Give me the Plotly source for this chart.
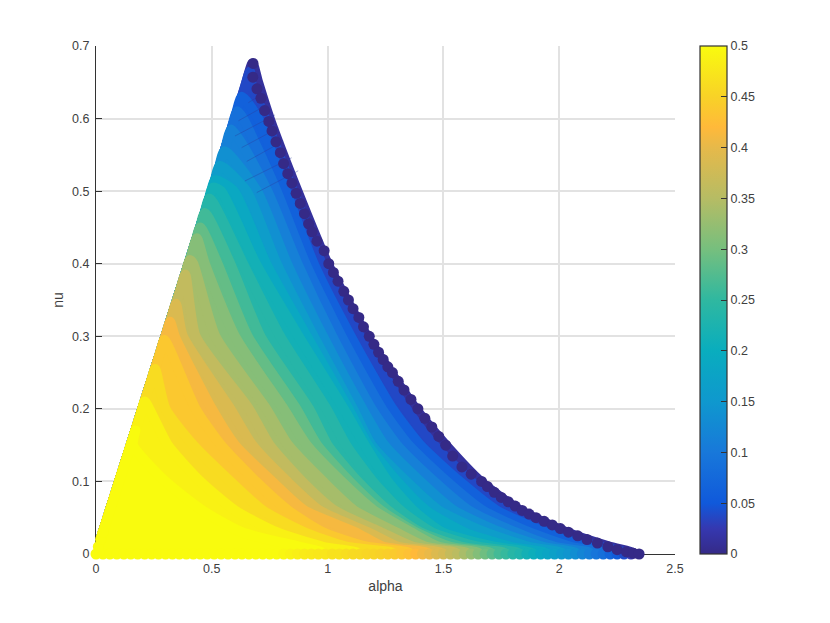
import plotly.graph_objects as go

# colour bar
CB_V = [0, .025, .05, .1, .15, .2, .25, .3, .35, .4, .42, .45, .5]
CB_HEX = ["#352A87", "#3538B0", "#1059DB", "#1878DA", "#0F98CE", "#09ADBE", "#2FB8A0",
          "#76BF7E", "#B6BC64", "#E6B94A", "#FFB93A", "#F8D227", "#F9FB0E"]

# rows of nu at which level curves were read
NU_ROWS = [.002, .01, .03, .06, .1, .15, .2, .3, .4, .5, .6, .65]
LEVELS = [0, .025, .05, .075, .1, .125, .15, .175, .2, .225, .25, .275, .3, .325, .35, .375, .4, .425, .45, .475, .5]
# alpha position of each level curve on the rows above (as far up as it reaches)
LEVEL_ALPHA = [
    [2.34, 2.24, 2.05, 1.85, 1.68, 1.53, 1.40, 1.19, 1.02, .89, .77, .72],
    [2.31, 2.20, 2.01, 1.80, 1.64, 1.48, 1.36, 1.16, .995, .87, .75, .69],
    [2.26, 2.15, 1.96, 1.75, 1.59, 1.42, 1.30, 1.12, .96, .84, .72],
    [2.21, 2.07, 1.89, 1.69, 1.535, 1.37, 1.255, 1.08, .925, .80, .655],
    [2.15, 2.00, 1.83, 1.63, 1.48, 1.32, 1.21, 1.04, .89, .76],
    [2.09, 1.95, 1.765, 1.565, 1.42, 1.265, 1.17, 1.00, .845, .715],
    [2.03, 1.89, 1.70, 1.50, 1.36, 1.21, 1.13, .96, .80, .67],
    [1.96, 1.81, 1.61, 1.445, 1.32, 1.195, 1.11, .93, .755, .615],
    [1.90, 1.74, 1.515, 1.39, 1.28, 1.18, 1.09, .895, .71, .56],
    [1.84, 1.67, 1.47, 1.335, 1.215, 1.10, 1.015, .815, .655],
    [1.78, 1.60, 1.42, 1.28, 1.15, 1.02, .94, .73, .60],
    [1.72, 1.55, 1.40, 1.25, 1.115, .975, .885, .675, .545],
    [1.67, 1.50, 1.38, 1.22, 1.08, .93, .83, .62, .49],
    [1.62, 1.445, 1.315, 1.135, 1.00, .85, .755, .535, .44],
    [1.57, 1.39, 1.25, 1.05, .91, .77, .68, .45],
    [1.51, 1.325, 1.195, .985, .845, .695, .60, .395],
    [1.45, 1.26, 1.14, .92, .78, .62, .52, .36],
    [1.37, 1.19, 1.00, .85, .71, .56, .45],
    [1.30, 1.10, .92, .74, .60, .44, .32],
    [1.15, 1.00, .80, .62, .47, .33],
    [1.00, .90, .65, .48, .32, .18],
]
# where each level meets the straight left edge (alpha = nu)
EDGE_NU = [.676, .665, .63, .61, .585, .555, .535, .515, .505, .49, .47, .45, .435, .405, .385, .345, .32, .295, .255, .21, .17]
# stations along the straight edges, as fractions, that keep the smoothed outline on them
EDGE_STOPS = [0, .03, .08, .3, .6, .85, .95, 1]

# markers sitting on the axis, which spill past it
BOTTOM_ALPHA = [0, .03, .06, .09, .12, .15, .18, .21, .24, .27, .3, .33, .36, .39, .42, .45, .48, .51, .54, .57, .6, .63,
                .66, .69, .72, .75, .78, .81, .84, .87, .9, .93, .96, .99, 1.02, 1.05, 1.08, 1.11, 1.14, 1.17, 1.2, 1.23,
                1.26, 1.29, 1.32, 1.35, 1.38, 1.41, 1.44, 1.47, 1.5, 1.53, 1.56, 1.59, 1.62, 1.65, 1.68, 1.71, 1.74, 1.77,
                1.8, 1.83, 1.86, 1.89, 1.92, 1.95, 1.98, 2.01, 2.04, 2.07, 2.1, 2.13, 2.16, 2.19, 2.22, 2.25, 2.28, 2.31]
BOTTOM_VALUE = [.5] * 27 + [.495, .49, .485, .48, .478, .476, .475, .47, .47, .465, .46, .458, .455, .452, .449, .445, .44,
                            .435, .43, .42, .41, .402, .39, .38, .365, .355, .34, .325, .31, .295, .28, .265, .255, .24,
                            .23, .215, .205, .19, .18, .17, .155, .145, .135, .12, .11, .095, .085, .07, .055, .04, .025]
LEFT_ALPHA = [.01, .02, .03]
LEFT_NU = [.01, .02, .03]
LEFT_VALUE = [.5, .5, .5]

# scalloped outer row of markers
OUTER_ALPHA = [.678, .677, .695, .712, .728, .746, .760, .777, .796, .810, .828, .846, .864, .882, .900, .918, .933, .954,
               .985, 1.005, 1.025, 1.045, 1.07, 1.09, 1.11, 1.135, 1.155, 1.18, 1.2, 1.22, 1.24, 1.26, 1.28, 1.305, 1.33,
               1.36, 1.39, 1.42, 1.45, 1.48, 1.51, 1.54, 1.58, 1.62, 1.665, 1.69, 1.72, 1.75, 1.78, 1.81, 1.84, 1.87, 1.90,
               1.935, 1.97, 2.005, 2.04, 2.08, 2.12, 2.165, 2.21, 2.25, 2.29, 2.32, 2.345]
OUTER_NU = [.676, .657, .641, .628, .611, .596, .583, .568, .553, .538, .524, .511, .497, .483, .469, .455, .444, .431,
            .418, .4, .388, .376, .362, .35, .338, .326, .313, .3, .289, .278, .268, .258, .25, .238, .226,
            .213, .2, .187, .175, .162, .15, .135, .12, .11, .1, .093, .085, .078, .072, .066, .06, .055, .05,
            .045, .04, .035, .03, .025, .02, .015, .01, .006, .003, .001, 0]
OUTER_VALUE = [.0] * len(OUTER_ALPHA)

# thin dark seams between the marker rows near the tip
SEAM_ALPHA_START = [.658, .615, .600, .629, .651, .643, .694]
SEAM_NU_START = [.622, .597, .576, .560, .541, .514, .498]
SEAM_ALPHA_END = [.730, .744, .773, .787, .809, .845, .873]
SEAM_NU_END = [.636, .620, .605, .587, .569, .546, .528]

XTICKS = [0, .5, 1, 1.5, 2, 2.5]
YTICKS = [0, .1, .2, .3, .4, .5, .6, .7]
CB_TICKS = [0, .05, .1, .15, .2, .25, .3, .35, .4, .45, .5]

STROKE_PX = 10
STROKE_ALPHA = 0.02
FONT = "Liberation Sans, Arial, sans-serif"
INK = "#404040"
SCALE = [[v / .5, h] for v, h in zip(CB_V, CB_HEX)]


def to_rgb(h):
    return tuple(int(h[i:i + 2], 16) for i in (1, 3, 5))


def colour(v):
    v = min(max(v, 0), .5)
    for i in range(len(CB_V) - 1):
        if v <= CB_V[i + 1]:
            f = (v - CB_V[i]) / (CB_V[i + 1] - CB_V[i])
            a, b = to_rgb(CB_HEX[i]), to_rgb(CB_HEX[i + 1])
            return "rgb(%d,%d,%d)" % tuple(round(a[k] + f * (b[k] - a[k])) for k in range(3))
    return CB_HEX[-1]


fig = go.Figure()
for lv, row, top in zip(LEVELS, LEVEL_ALPHA, EDGE_NU):
    xs = [a - STROKE_ALPHA for a in row]
    ys = NU_ROWS[:len(row)]
    left = [top * s for s in EDGE_STOPS]
    bottom = [xs[0] * s for s in EDGE_STOPS[::-1]]
    px = left + xs[::-1] + bottom
    py = left + ys[::-1] + [0] * len(bottom)
    c = colour(lv + .0125 if lv < .5 else .5)
    fig.add_trace(go.Scatter(x=px, y=py, mode="lines", fill="toself", fillcolor=c,
                             line=dict(color=c, width=STROKE_PX, shape="spline", smoothing=.6, simplify=False),
                             hoverinfo="skip", showlegend=False, cliponaxis=False))

seam_x, seam_y = [], []
for a0, n0, a1, n1 in zip(SEAM_ALPHA_START, SEAM_NU_START, SEAM_ALPHA_END, SEAM_NU_END):
    seam_x += [a0, a1, None]
    seam_y += [n0, n1, None]
fig.add_trace(go.Scatter(x=seam_x, y=seam_y, mode="lines", line=dict(color="#2A3FA0", width=1), opacity=.4,
                         hoverinfo="skip", showlegend=False))

fig.add_trace(go.Scatter(
    x=BOTTOM_ALPHA + LEFT_ALPHA, y=[0] * len(BOTTOM_ALPHA) + LEFT_NU, mode="markers", showlegend=False, cliponaxis=False,
    hoverinfo="skip",
    marker=dict(size=11, color=BOTTOM_VALUE + LEFT_VALUE, cmin=0, cmax=.5, line=dict(width=0),
                colorscale=SCALE, showscale=False)))

fig.add_trace(go.Scatter(
    x=OUTER_ALPHA, y=OUTER_NU, mode="markers", showlegend=False, cliponaxis=False,
    marker=dict(size=11, color=OUTER_VALUE, cmin=0, cmax=.5, line=dict(width=0),
                colorscale=SCALE,
                colorbar=dict(x=(700 - 96) / 579, xanchor="left", xpad=0, y=.5, yanchor="middle", ypad=0,
                              len=1, lenmode="fraction", thickness=27, thicknessmode="pixels",
                              outlinecolor="#333333", outlinewidth=1.2, ticks="inside", ticklen=6,
                              tickcolor="#333333", tickwidth=1, tickvals=CB_TICKS,
                              ticktext=[f"{t:g}" for t in CB_TICKS],
                              tickfont=dict(family=FONT, size=12.5, color=INK)))))

axis = dict(showgrid=True, gridcolor="#E2E2E2", gridwidth=1.5, zeroline=False, showline=True,
            linecolor="#333333", linewidth=1.3, ticks="inside", ticklen=6, tickcolor="#333333",
            tickwidth=1, layer="below traces", ticklabelstandoff=3,
            tickfont=dict(family=FONT, size=12.5, color=INK))
fig.update_layout(
    width=822, height=615, autosize=False, paper_bgcolor="white", plot_bgcolor="white",
    margin=dict(l=88, r=155, t=38, b=69),
    xaxis=dict(axis, range=[0, 2.5], tickvals=XTICKS, ticktext=[f"{t:g}" for t in XTICKS],
               title=dict(text="alpha", font=dict(family=FONT, size=14, color=INK), standoff=6)),
    yaxis=dict(axis, range=[0, .7], tickvals=YTICKS, ticktext=[f"{t:g}" for t in YTICKS],
               title=dict(text="nu", font=dict(family=FONT, size=14, color=INK), standoff=5)),
)
fig.write_html("out.html")
